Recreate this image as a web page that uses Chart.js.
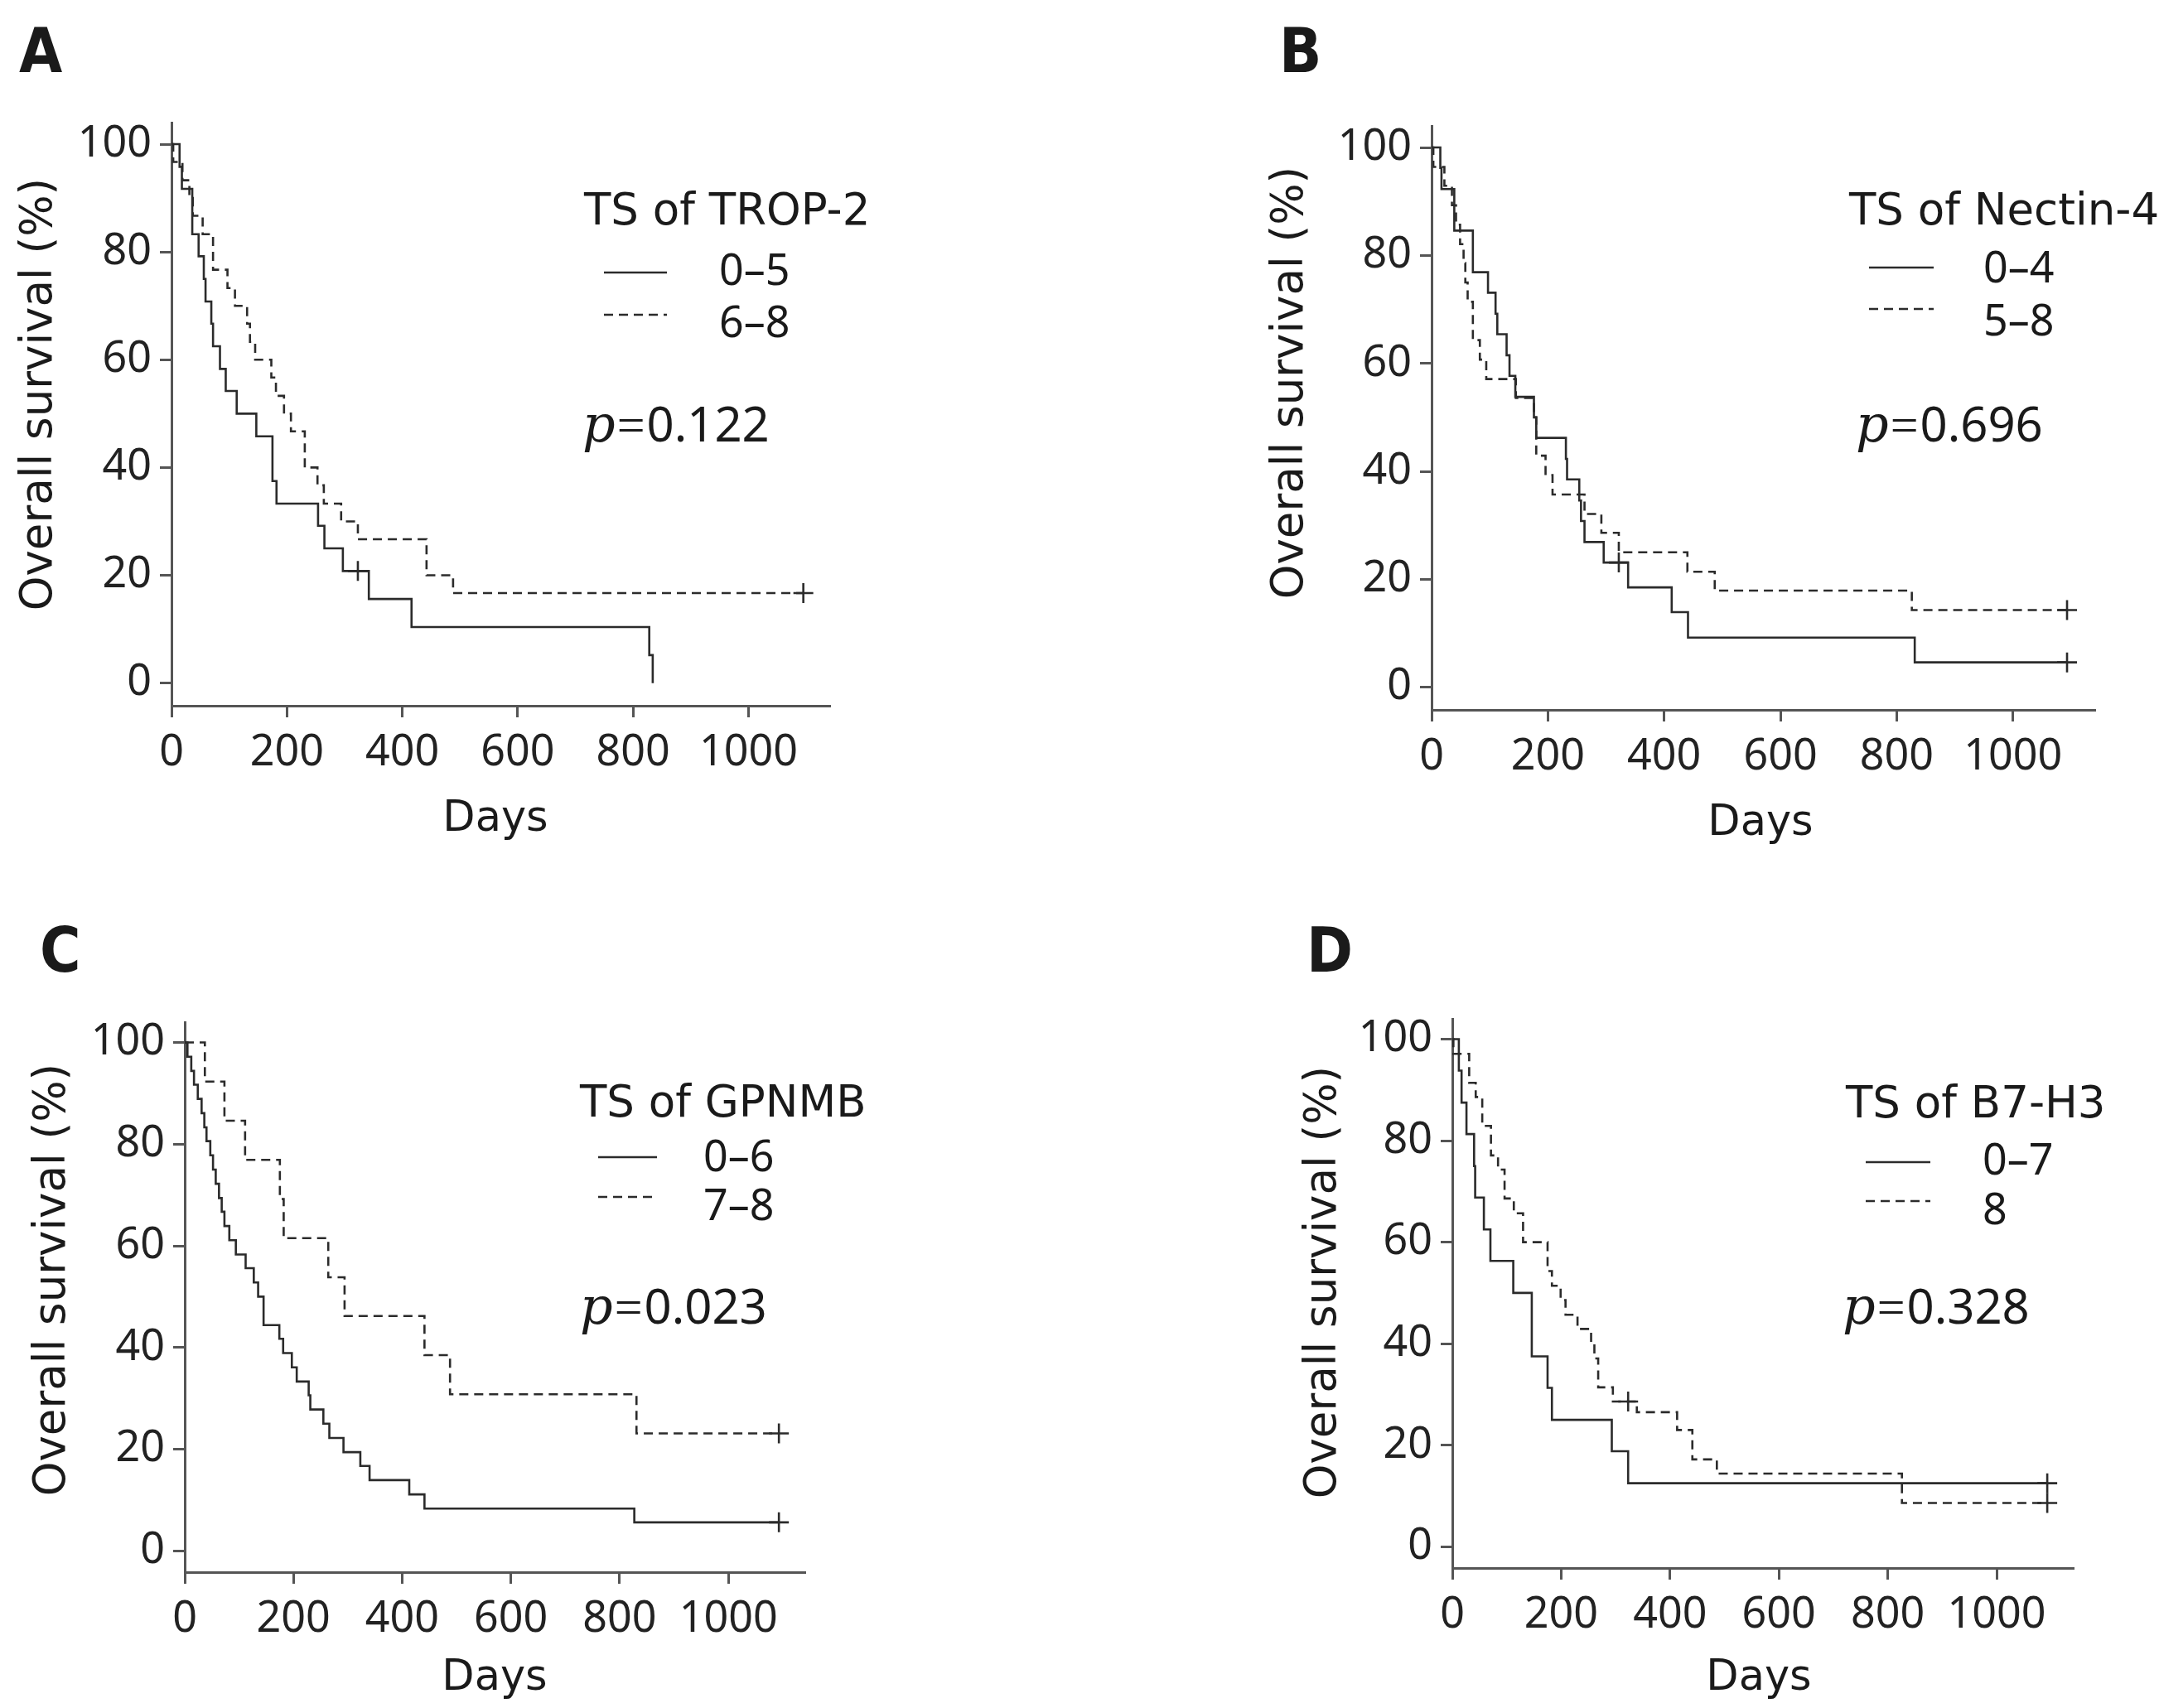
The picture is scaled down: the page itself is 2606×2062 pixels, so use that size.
<!DOCTYPE html>
<html>
<head>
<meta charset="utf-8">
<script src="https://cdn.jsdelivr.net/npm/chart.js@4.4.1/dist/chart.umd.min.js"></script>
<style>
html, body { margin: 0; padding: 0; background: #fff; }
#page { position: relative; width: 2606px; height: 2062px; overflow: hidden; background: #fff; }
canvas { position: absolute; }
</style>
</head>
<body>
<div id="page">
  <canvas id="chartA" width="1303" height="1031" style="left:0px;top:0px"></canvas>
  <canvas id="chartB" width="1303" height="1031" style="left:1303px;top:0px"></canvas>
  <canvas id="chartC" width="1303" height="1031" style="left:0px;top:1031px"></canvas>
  <canvas id="chartD" width="1303" height="1031" style="left:1303px;top:1031px"></canvas>
</div>
<script>
const xTicks = [0, 200, 400, 600, 800, 1000];
const yTicks = [0, 20, 40, 60, 80, 100];
const X_MAX = 1140;

// A: TS of TROP-2
const trop2LowDays = [0, 14, 18, 36, 47, 56, 59, 69, 72, 84, 94, 113, 147, 175, 182, 254, 265, 297, 342, 416, 828, 834];
const trop2LowSurv = [100, 95.8, 91.7, 83.3, 79.2, 75, 70.8, 66.7, 62.5, 58.3, 54.2, 50, 45.8, 37.5, 33.3, 29.2, 25, 20.8, 15.6, 10.4, 5.2, 0];
const trop2LowCensDays = [323];
const trop2LowCensSurv = [20.8];
const trop2HighDays = [0, 3, 19, 31, 37, 54, 72, 97, 110, 131, 136, 145, 173, 181, 195, 207, 231, 253, 264, 294, 323, 442, 488, 1095];
const trop2HighSurv = [100, 96.7, 93.3, 90, 86.7, 83.3, 76.7, 73.3, 70, 66.7, 63.3, 60, 56.7, 53.3, 50, 46.7, 40, 36.7, 33.3, 30, 26.7, 20, 16.7, 16.7];
const trop2HighCensDays = [1095];
const trop2HighCensSurv = [16.7];

// B: TS of Nectin-4
const nectinLowDays = [0, 15, 17, 39, 71, 97, 110, 113, 129, 134, 144, 176, 180, 231, 233, 254, 257, 263, 296, 338, 413, 441, 831, 1093];
const nectinLowSurv = [100, 96.2, 92.3, 84.6, 76.9, 73.1, 69.2, 65.4, 61.5, 57.7, 53.8, 50, 46.2, 42.3, 38.5, 34.6, 30.8, 26.9, 23.1, 18.5, 13.9, 9.2, 4.6, 4.6];
const nectinLowCensDays = [322, 1093];
const nectinLowCensSurv = [23.1, 4.6];
const nectinHighDays = [0, 3, 22, 35, 42, 49, 55, 58, 62, 71, 83, 94, 145, 176, 180, 196, 208, 263, 292, 322, 440, 487, 826, 1093];
const nectinHighSurv = [100, 96.4, 92.9, 89.3, 85.7, 82.1, 78.6, 75, 71.4, 64.3, 60.7, 57.1, 53.6, 50, 42.9, 39.3, 35.7, 32.1, 28.6, 25, 21.4, 17.9, 14.3, 14.3];
const nectinHighCensDays = [1093];
const nectinHighCensSurv = [14.3];

// C: TS of GPNMB
const gpnmbLowDays = [0, 5, 12, 17, 24, 31, 36, 40, 47, 52, 57, 63, 68, 73, 82, 94, 112, 127, 135, 145, 174, 181, 197, 206, 228, 231, 255, 266, 292, 323, 340, 413, 441, 827, 1093];
const gpnmbLowSurv = [100, 97.2, 94.4, 91.7, 88.9, 86.1, 83.3, 80.6, 77.8, 75, 72.2, 69.4, 66.7, 63.9, 61.1, 58.3, 55.6, 52.8, 50, 44.4, 41.7, 38.9, 36.1, 33.3, 30.6, 27.8, 25, 22.2, 19.4, 16.7, 13.9, 11.1, 8.3, 5.6, 5.6];
const gpnmbLowCensDays = [1093];
const gpnmbLowCensSurv = [5.6];
const gpnmbHighDays = [0, 37, 73, 111, 175, 182, 264, 294, 441, 488, 831, 1093];
const gpnmbHighSurv = [100, 92.3, 84.6, 76.9, 69.2, 61.5, 53.8, 46.2, 38.5, 30.8, 23.1, 23.1];
const gpnmbHighCensDays = [1093];
const gpnmbHighCensSurv = [23.1];

// D: TS of B7-H3
const b7LowDays = [0, 12, 17, 26, 40, 42, 58, 70, 112, 146, 175, 183, 293, 323, 1093];
const b7LowSurv = [100, 93.8, 87.5, 81.3, 75, 68.8, 62.5, 56.3, 50, 37.5, 31.3, 25, 18.8, 12.5, 12.5];
const b7LowCensDays = [1093];
const b7LowCensSurv = [12.5];
const b7HighDays = [0, 2, 31, 43, 55, 71, 84, 96, 113, 130, 175, 183, 199, 208, 230, 255, 261, 268, 295, 339, 413, 441, 486, 826, 1093];
const b7HighSurv = [100, 97.1, 91.4, 88.6, 82.9, 77.1, 74.3, 68.6, 65.7, 60, 54.3, 51.4, 48.6, 45.7, 42.9, 40, 37.1, 31.4, 28.6, 26.5, 23, 17.2, 14.4, 8.6, 8.6];
const b7HighCensDays = [323, 1093];
const b7HighCensSurv = [28.6, 8.6];

const INK = '#2b2b2b';
const AXIS = '#555555';
const Y_W = 150;
const X_H = 150;

function pts(days, surv) {
    var out = [];
    for (var i = 0; i < days.length; i++) out.push({ x: days[i], y: surv[i] });
    return out;
}

// draws panel letter, axis titles, legend box and p value
const panelText = {
    id: 'panelText',
    afterDraw(chart, args, o) {
        const ctx = chart.ctx;
        const ox = o.ox, oy = o.oy;
        ctx.save();
        ctx.fillStyle = '#1a1a1a';
        ctx.textBaseline = 'alphabetic';

        ctx.font = 'bold 75px "Liberation Sans Narrow", "DejaVu Sans Condensed", sans-serif';
        ctx.textAlign = 'left';
        ctx.fillText(o.letter, o.letterPos[0] - ox, o.letterPos[1] - oy);

        ctx.font = '51px "DejaVu Sans", sans-serif';
        ctx.textAlign = 'center';
        ctx.fillText('Days', o.xTitle[0] - ox, o.xTitle[1] - oy);
        ctx.font = '53px "DejaVu Sans", sans-serif';
        ctx.save();
        ctx.translate(o.yTitle[0] - ox, o.yTitle[1] - oy);
        ctx.rotate(-Math.PI / 2);
        ctx.fillText('Overall survival (%)', 0, 0);
        ctx.restore();

        ctx.textAlign = 'left';
        ctx.fillText(o.legTitle, o.legPos[0] - ox, o.legPos[1] - oy);

        ctx.strokeStyle = INK;
        ctx.lineWidth = 2.6;
        for (var i = 0; i < 2; i++) {
            ctx.setLineDash(i == 0 ? [] : [11, 7]);
            ctx.beginPath();
            ctx.moveTo(o.lineX[0] - ox, o.lineY[i] - oy);
            ctx.lineTo(o.lineX[1] - ox, o.lineY[i] - oy);
            ctx.stroke();
        }
        ctx.setLineDash([]);
        ctx.font = '52px "Noto Sans", sans-serif';
        ctx.fillText(o.groups[0], o.labX - ox, o.labY[0] - oy);
        ctx.fillText(o.groups[1], o.labX - ox, o.labY[1] - oy);

        var px = o.pPos[0] - ox, py = o.pPos[1] - oy;
        ctx.font = 'italic 62px "DejaVu Serif", serif';
        ctx.fillText('p', px, py);
        px += ctx.measureText('p').width + 2;
        ctx.font = '60px "Liberation Serif", serif';
        ctx.fillText('=', px, py);
        px += ctx.measureText('=').width + 2;
        ctx.font = '58px "Noto Sans", sans-serif';
        ctx.fillText(o.pValue, px, py);
        ctx.restore();
    }
};

function drawPanel(id, ox, oy, area, data, text) {
    var canvas = document.getElementById(id);
    var W = canvas.width, H = canvas.height;
    var tickFont = { family: '"Noto Sans", sans-serif', size: 52 };
    text.ox = ox;
    text.oy = oy;
    return new Chart(canvas, {
        type: 'line',
        data: {
            datasets: [
                { data: pts(data.lowDays, data.lowSurv), borderColor: INK, borderWidth: 2.6, stepped: 'before', pointRadius: 0, fill: false },
                { data: pts(data.highDays, data.highSurv), borderColor: INK, borderWidth: 2.6, borderDash: [11, 7], stepped: 'before', pointRadius: 0, fill: false },
                { data: pts(data.censDays, data.censSurv), showLine: false, pointStyle: 'cross', pointRadius: 12, borderColor: INK, borderWidth: 2.6 }
            ]
        },
        options: {
            animation: false,
            responsive: false,
            devicePixelRatio: 1,
            events: [],
            layout: { padding: { left: area.l - ox - Y_W, top: area.t - oy, right: ox + W - area.r, bottom: oy + H - area.b - X_H } },
            plugins: { legend: { display: false }, tooltip: { enabled: false }, panelText: text },
            scales: {
                x: {
                    type: 'linear', min: 0, max: X_MAX,
                    afterBuildTicks: function (s) { s.ticks = xTicks.map(v => ({ value: v })); },
                    afterFit: function (s) { s.height = X_H; },
                    grid: { drawOnChartArea: false, drawTicks: true, tickLength: 14, color: AXIS, lineWidth: 3 },
                    border: { display: true, color: AXIS, width: 3 },
                    ticks: { font: tickFont, color: '#222', padding: 12, maxRotation: 0, autoSkip: false,
                             callback: function (v) { return String(v); } }
                },
                y: {
                    type: 'linear', min: -4.2, max: 104,
                    afterBuildTicks: function (s) { s.ticks = yTicks.map(v => ({ value: v })); },
                    afterFit: function (s) { s.width = Y_W; },
                    grid: { drawOnChartArea: false, drawTicks: true, tickLength: 14, color: AXIS, lineWidth: 3 },
                    border: { display: true, color: AXIS, width: 3 },
                    ticks: { font: tickFont, color: '#222', padding: 10,
                             callback: function (v) { return String(v); } }
                }
            }
        },
        plugins: [panelText]
    });
}

drawPanel('chartA', 0, 0, { l: 207, t: 148, r: 1001, b: 852 },
    { lowDays: trop2LowDays, lowSurv: trop2LowSurv, highDays: trop2HighDays, highSurv: trop2HighSurv,
      censDays: trop2LowCensDays.concat(trop2HighCensDays), censSurv: trop2LowCensSurv.concat(trop2HighCensSurv) },
    { letter: 'A', letterPos: [23, 87], xTitle: [598, 1003], yTitle: [62, 476], legTitle: 'TS of TROP-2', legPos: [705, 271],
      lineX: [729, 805], lineY: [329, 380], groups: ['0–5', '6–8'], labX: 868, labY: [344, 407], pPos: [703, 533], pValue: '0.122' });

drawPanel('chartB', 1303, 0, { l: 1728, t: 152, r: 2528, b: 857 },
    { lowDays: nectinLowDays, lowSurv: nectinLowSurv, highDays: nectinHighDays, highSurv: nectinHighSurv,
      censDays: nectinLowCensDays.concat(nectinHighCensDays), censSurv: nectinLowCensSurv.concat(nectinHighCensSurv) },
    { letter: 'B', letterPos: [1544, 87], xTitle: [2125, 1008], yTitle: [1572, 462], legTitle: 'TS of Nectin-4', legPos: [2232, 271],
      lineX: [2256, 2334], lineY: [323, 373], groups: ['0–4', '5–8'], labX: 2394, labY: [341, 405], pPos: [2240, 533], pValue: '0.696' });

drawPanel('chartC', 0, 1031, { l: 223, t: 1234, r: 971, b: 1898 },
    { lowDays: gpnmbLowDays, lowSurv: gpnmbLowSurv, highDays: gpnmbHighDays, highSurv: gpnmbHighSurv,
      censDays: gpnmbLowCensDays.concat(gpnmbHighCensDays), censSurv: gpnmbLowCensSurv.concat(gpnmbHighCensSurv) },
    { letter: 'C', letterPos: [48, 1173], xTitle: [597, 2040], yTitle: [78, 1545], legTitle: 'TS of GPNMB', legPos: [700, 1348],
      lineX: [722, 793], lineY: [1397, 1445], groups: ['0–6', '7–8'], labX: 849, labY: [1414, 1473], pPos: [700, 1598], pValue: '0.023' });

drawPanel('chartD', 1303, 1031, { l: 1753, t: 1230, r: 2502, b: 1893 },
    { lowDays: b7LowDays, lowSurv: b7LowSurv, highDays: b7HighDays, highSurv: b7HighSurv,
      censDays: b7LowCensDays.concat(b7HighCensDays), censSurv: b7LowCensSurv.concat(b7HighCensSurv) },
    { letter: 'D', letterPos: [1577, 1173], xTitle: [2123, 2040], yTitle: [1612, 1548], legTitle: 'TS of B7-H3', legPos: [2228, 1349],
      lineX: [2252, 2330], lineY: [1403, 1450], groups: ['0–7', '8'], labX: 2393, labY: [1418, 1478], pPos: [2224, 1598], pValue: '0.328' });
</script>
</body>
</html>
